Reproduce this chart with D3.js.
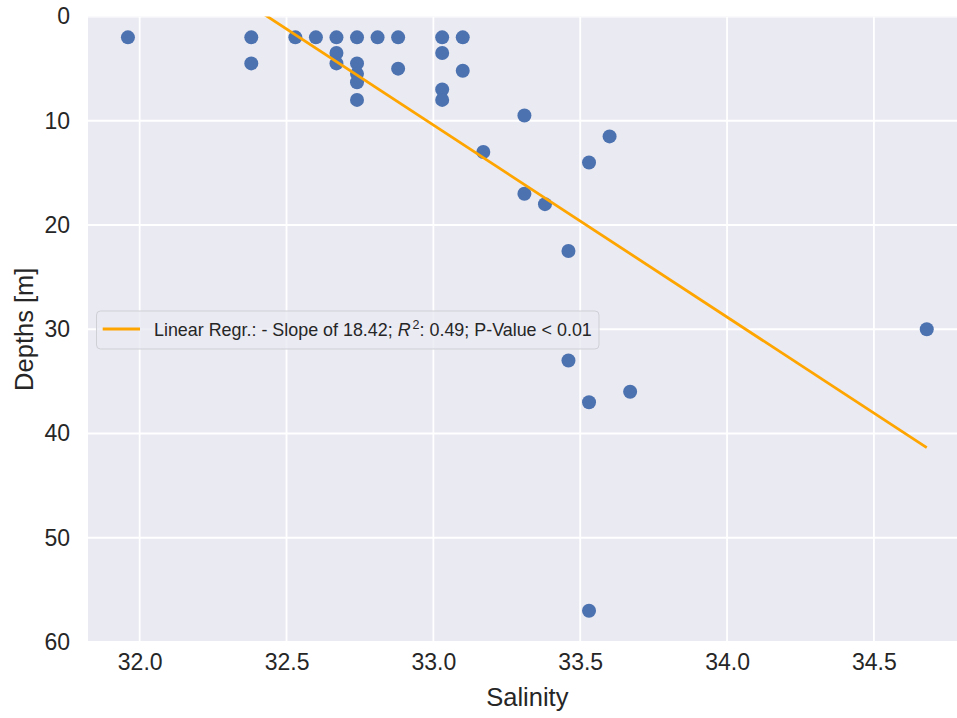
<!DOCTYPE html>
<html>
<head>
<meta charset="utf-8">
<script src="https://cdn.jsdelivr.net/npm/d3@7"></script>
<style>
  html, body { margin: 0; padding: 0; background: #fff; }
  svg { display: block; font-family: "Liberation Sans", Arial, sans-serif; }
</style>
</head>
<body>
<svg id="chart" width="957" height="718"></svg>
<script>
// Salinity / depth samples
const salinity = [31.96, 32.38, 32.38, 32.53, 32.60, 32.67, 32.67, 32.67,
  32.74, 32.74, 32.74, 32.74, 32.74, 32.81, 32.88, 32.88,
  33.03, 33.03, 33.03, 33.03, 33.10, 33.10, 33.31, 33.17,
  33.60, 33.53, 33.31, 33.38, 33.46, 34.68, 33.46, 33.53, 33.67, 33.53];
const depths = [2, 2, 4.5, 2, 2, 2, 3.5, 4.5,
  2, 4.5, 5.5, 6.3, 8.0, 2, 2, 5.0,
  2, 3.5, 7.0, 8.0, 2, 5.2, 9.5, 13.0,
  11.5, 14.0, 17.0, 18.0, 22.5, 30, 33, 37, 36, 57];

// Linear regression of depth on salinity
const regrSlope = 18.42;
const regrIntercept = -597.45;
const regrR2 = 0.49;
const regrP = "< 0.01";

const xTicks = [32.0, 32.5, 33.0, 33.5, 34.0, 34.5];
const yTicks = [0, 10, 20, 30, 40, 50, 60];

const svg = d3.select("#chart");
const plot = { left: 88, top: 16.5, right: 966.7, bottom: 642 };

const x = d3.scaleLinear().domain([31.824, 34.816]).range([plot.left, plot.right]);
const y = d3.scaleLinear().domain([0, 60]).range([plot.top, plot.bottom]);

svg.append("defs").append("clipPath").attr("id", "plotClip")
  .append("rect")
  .attr("x", plot.left).attr("y", plot.top)
  .attr("width", plot.right - plot.left).attr("height", plot.bottom - plot.top);

// Background
svg.append("rect")
  .attr("x", plot.left).attr("y", plot.top)
  .attr("width", plot.right - plot.left).attr("height", plot.bottom - plot.top)
  .attr("fill", "#eaeaf2");

// Grid
const grid = svg.append("g").attr("clip-path", "url(#plotClip)");
grid.selectAll("line.gx").data(xTicks).join("line")
  .attr("x1", d => x(d)).attr("x2", d => x(d))
  .attr("y1", plot.top).attr("y2", plot.bottom)
  .attr("stroke", "#fff").attr("stroke-width", 1.8);
grid.selectAll("line.gy").data(yTicks).join("line")
  .attr("y1", d => y(d)).attr("y2", d => y(d))
  .attr("x1", plot.left).attr("x2", plot.right)
  .attr("stroke", "#fff").attr("stroke-width", 1.8);

// Axes (labels only, no domain or tick marks)
const xAxis = d3.axisBottom(x).tickValues(xTicks).tickFormat(d3.format(".1f")).tickSize(0).tickPadding(12);
const gx = svg.append("g").attr("transform", `translate(0,${plot.bottom})`).call(xAxis);
gx.select(".domain").remove();
gx.selectAll("text").attr("font-size", 23).attr("fill", "#262626")
  .attr("font-family", "'Liberation Sans', Arial, sans-serif");

const yAxis = d3.axisLeft(y).tickValues(yTicks).tickFormat(d3.format("d")).tickSize(0).tickPadding(18);
const gy = svg.append("g").attr("transform", `translate(${plot.left},0)`).call(yAxis);
gy.select(".domain").remove();
gy.selectAll("text").attr("font-size", 23).attr("fill", "#262626")
  .attr("font-family", "'Liberation Sans', Arial, sans-serif");

// Axis titles
svg.append("text")
  .attr("x", (plot.left + plot.right) / 2).attr("y", 706)
  .attr("text-anchor", "middle").attr("font-size", 25.5).attr("fill", "#262626")
  .text("Salinity");
svg.append("text")
  .attr("transform", `translate(33,${(plot.top + plot.bottom) / 2}) rotate(-90)`)
  .attr("text-anchor", "middle").attr("font-size", 25.5).attr("fill", "#262626")
  .text("Depths [m]");

// Scatter points
const pts = salinity.map((s, i) => ({ s, d: depths[i] }));
svg.append("g").attr("clip-path", "url(#plotClip)")
  .selectAll("circle").data(pts).join("circle")
  .attr("cx", d => x(d.s)).attr("cy", d => y(d.d))
  .attr("r", 7).attr("fill", "#4c72b0");

// Regression line across the salinity range
const sMin = d3.min(salinity), sMax = d3.max(salinity);
const regrLine = [sMin, sMax].map(s => [s, regrSlope * s + regrIntercept]);
svg.append("path").attr("clip-path", "url(#plotClip)")
  .datum(regrLine)
  .attr("d", d3.line().x(d => x(d[0])).y(d => y(d[1])))
  .attr("fill", "none").attr("stroke", "#ffa500").attr("stroke-width", 2.8);

// Legend
const lg = svg.append("g");
lg.append("rect")
  .attr("x", 96.5).attr("y", 311).attr("width", 502.5).attr("height", 38)
  .attr("rx", 4).attr("ry", 4)
  .attr("fill", "#eaeaf2").attr("fill-opacity", 0.8)
  .attr("stroke", "#cfcfd6").attr("stroke-width", 1);
lg.append("line")
  .attr("x1", 102.7).attr("x2", 140).attr("y1", 329).attr("y2", 329)
  .attr("stroke", "#ffa500").attr("stroke-width", 2.8);
const lt = lg.append("text")
  .attr("x", 154).attr("y", 335.5).attr("font-size", 17.9).attr("fill", "#262626");
lt.append("tspan").text(`Linear Regr.: - Slope of ${regrSlope.toFixed(2)}; `);
lt.append("tspan").attr("font-style", "italic").text("R");
lt.append("tspan").attr("font-size", 12.5).attr("dy", -7).attr("dx", 2).text("2");
lt.append("tspan").attr("dy", 7).text(`: ${regrR2.toFixed(2)}; P-Value ${regrP}`);
</script>
</body>
</html>
